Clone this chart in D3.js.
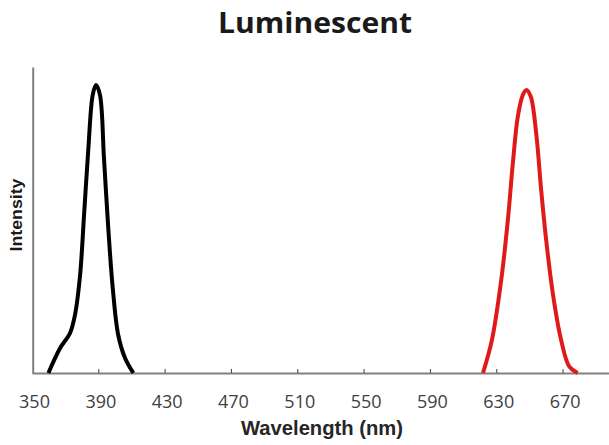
<!DOCTYPE html>
<html><head><meta charset="utf-8">
<script src="https://cdn.jsdelivr.net/npm/d3@7"></script>
<style>body{margin:0;background:#fff}svg{display:block}</style>
</head><body>
<svg id="c" width="609" height="445"></svg>
<script>
const tickValues = [350, 390, 430, 470, 510, 550, 590, 630, 670];
const blackWavelength = [359.9, 366.9, 372.9, 375.9, 379.0, 381.4, 384.0, 386.6, 388.6, 391.0, 393.4, 396.0, 398.7, 402.0, 406.1, 411.1];
const blackIntensity  = [0, 0.086, 0.138, 0.201, 0.34, 0.549, 0.78, 0.965, 1.0, 0.965, 0.747, 0.503, 0.295, 0.132, 0.052, 0];
const redWavelength = [622.0, 627.4, 633.0, 637.0, 640.0, 643.0, 646.0, 648.2, 650.8, 654.1, 657.1, 660.1, 664.1, 669.1, 674.1, 679.1];
const redIntensity  = [0, 0.115, 0.323, 0.531, 0.728, 0.89, 0.965, 0.983, 0.96, 0.832, 0.635, 0.462, 0.277, 0.115, 0.022, 0];
const title = "Luminescent";
const xTitle = "Wavelength (nm)";
const yTitle = "Intensity";

const svg = d3.select("#c");
const x = d3.scaleLinear().domain([350, 698]).range([32, 609]);
const y = d3.scaleLinear().domain([0, 1.0625]).range([373, 67]);

// title
svg.append("text").attr("x", 315).attr("y", 33).attr("text-anchor", "middle")
  .attr("font-family", "Open Sans").attr("font-weight", "bold").attr("font-size", 28)
  .attr("fill", "#1a1a1a").attr("textLength", 194).attr("lengthAdjust", "spacingAndGlyphs").text(title);

// x axis
const xAxis = d3.axisBottom(x).tickValues(tickValues).tickSize(-4).tickPadding(0).tickSizeOuter(0);
const gx = svg.append("g").attr("transform", `translate(0,${y(0)})`).call(xAxis);
gx.select(".domain").attr("stroke", "#808080").attr("stroke-width", 2);
gx.selectAll(".tick line").attr("stroke", "#404040").attr("stroke-width", 1);
gx.selectAll(".tick").filter(d => d === 350).select("line").remove();
gx.selectAll(".tick text").attr("font-family", "Open Sans").attr("font-size", 18)
  .attr("fill", "#404040").attr("dy", 0).attr("y", 35).attr("dx", 2);

// y axis
const yAxis = d3.axisLeft(y).tickValues([]).tickSizeOuter(0);
const gy = svg.append("g").attr("transform", `translate(${x(350) + 0.7},0)`).call(yAxis);
gy.select(".domain").attr("stroke", "#808080").attr("stroke-width", 2);

// axis titles
svg.append("text").attr("x", 322).attr("y", 435).attr("text-anchor", "middle")
  .attr("font-family", "Liberation Sans").attr("font-weight", "bold").attr("font-size", 20)
  .attr("fill", "#262626").attr("textLength", 162).attr("lengthAdjust", "spacingAndGlyphs").text(xTitle);
svg.append("text").attr("transform", "translate(22,215) rotate(-90)").attr("text-anchor", "middle")
  .attr("font-family", "Liberation Sans").attr("font-weight", "bold").attr("font-size", 17)
  .attr("fill", "#1a1a1a").attr("textLength", 73).attr("lengthAdjust", "spacingAndGlyphs").text(yTitle);

// curves
const line = d3.line().x(d => x(d[0])).y(d => y(d[1])).curve(d3.curveCatmullRom.alpha(0.5));
svg.append("path").datum(d3.zip(blackWavelength, blackIntensity)).attr("d", line)
  .attr("fill", "none").attr("stroke", "#000").attr("stroke-width", 4).attr("stroke-linejoin", "round");
svg.append("path").datum(d3.zip(redWavelength, redIntensity)).attr("d", line)
  .attr("fill", "none").attr("stroke", "#e0191b").attr("stroke-width", 4).attr("stroke-linejoin", "round");
</script>
</body></html>
